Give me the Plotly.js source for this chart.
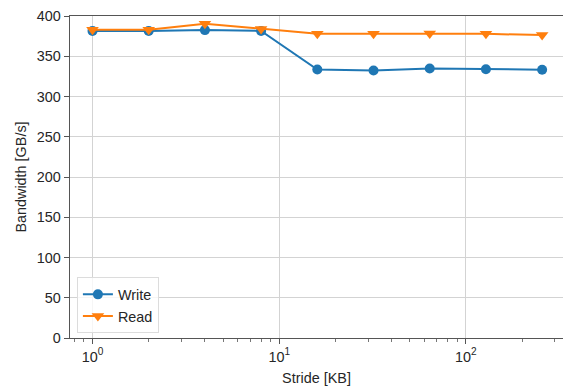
<!DOCTYPE html>
<html>
<head>
<meta charset="utf-8">
<script src="https://cdn.plot.ly/plotly-3.0.1.min.js"></script>
<style>html,body{margin:0;padding:0;background:#fff;}#chart{width:563px;height:390px;}</style>
</head>
<body>
<div id="chart"></div>
<script>
const strideKB = [1, 2, 4, 8, 16, 32, 64, 128, 256];
const writeBW = [381.5, 381.5, 382.5, 381.5, 333.5, 332.2, 334.7, 333.9, 333.3];
const readBW = [383, 383, 390.5, 383.8, 378, 377.8, 378.2, 377.8, 376.3];
const xTickVals = [1, 10, 100];
const xTickText = ['10<sup>0</sup>', '10<sup>1</sup>', '10<sup>2</sup>'];
const xMinorVals = [0.8, 0.9, 2, 3, 4, 5, 6, 7, 8, 9, 20, 30, 40, 50, 60, 70, 80, 90, 200, 300];
const yTickVals = [0, 50, 100, 150, 200, 250, 300, 350, 400];

const spine = '#555555';
const txt = '#262626';
const fam = 'Liberation Sans, Arial, sans-serif';
const fs = 14.4;

const traces = [
  {x: strideKB, y: writeBW, name: 'Write', mode: 'lines+markers', type: 'scatter',
   line: {color: '#1f77b4', width: 2}, marker: {symbol: 'circle', size: 10, color: '#1f77b4'}},
  {x: strideKB, y: readBW, name: 'Read', mode: 'lines+markers', type: 'scatter',
   line: {color: '#ff7f0e', width: 2}, marker: {symbol: 'triangle-down', size: 11, color: '#ff7f0e'}}
];

const layout = {
  width: 563, height: 390,
  margin: {l: 70, r: 0, t: 16, b: 52},
  paper_bgcolor: '#fff', plot_bgcolor: '#fff',
  font: {family: fam, size: fs, color: txt},
  showlegend: true,
  legend: {x: 0.014, y: 0.014, xanchor: 'left', yanchor: 'bottom',
    bordercolor: '#dcdcdc', borderwidth: 1, bgcolor: 'rgba(255,255,255,0.8)',
    font: {family: fam, size: fs, color: txt}, itemwidth: 30, tracegroupgap: 2},
  xaxis: {
    type: 'log', range: [-0.1205, 2.52],
    tickvals: xTickVals, ticktext: xTickText,
    showgrid: true, gridcolor: '#d3d3d3', gridwidth: 1,
    showline: true, linecolor: spine, linewidth: 1.25, mirror: true,
    ticks: 'outside', ticklen: 5, tickwidth: 1, tickcolor: spine,
    minor: {tickvals: xMinorVals, ticks: 'outside', ticklen: 3, tickwidth: 0.8, tickcolor: spine, showgrid: false},
    zeroline: false,
    title: {text: 'Stride [KB]', font: {family: fam, size: fs, color: txt}, standoff: 9},
    tickfont: {family: fam, size: fs, color: txt}
  },
  yaxis: {
    range: [0, 400], tickvals: yTickVals,
    showgrid: true, gridcolor: '#d3d3d3', gridwidth: 1,
    showline: true, linecolor: spine, linewidth: 1.25,
    ticks: 'outside', ticklen: 5, tickwidth: 1, tickcolor: spine,
    zeroline: false,
    title: {text: 'Bandwidth [GB/s]', font: {family: fam, size: fs, color: txt}, standoff: 6},
    tickfont: {family: fam, size: fs, color: txt}
  }
};

Plotly.newPlot('chart', traces, layout, {displayModeBar: false, staticPlot: true});
</script>
</body>
</html>
